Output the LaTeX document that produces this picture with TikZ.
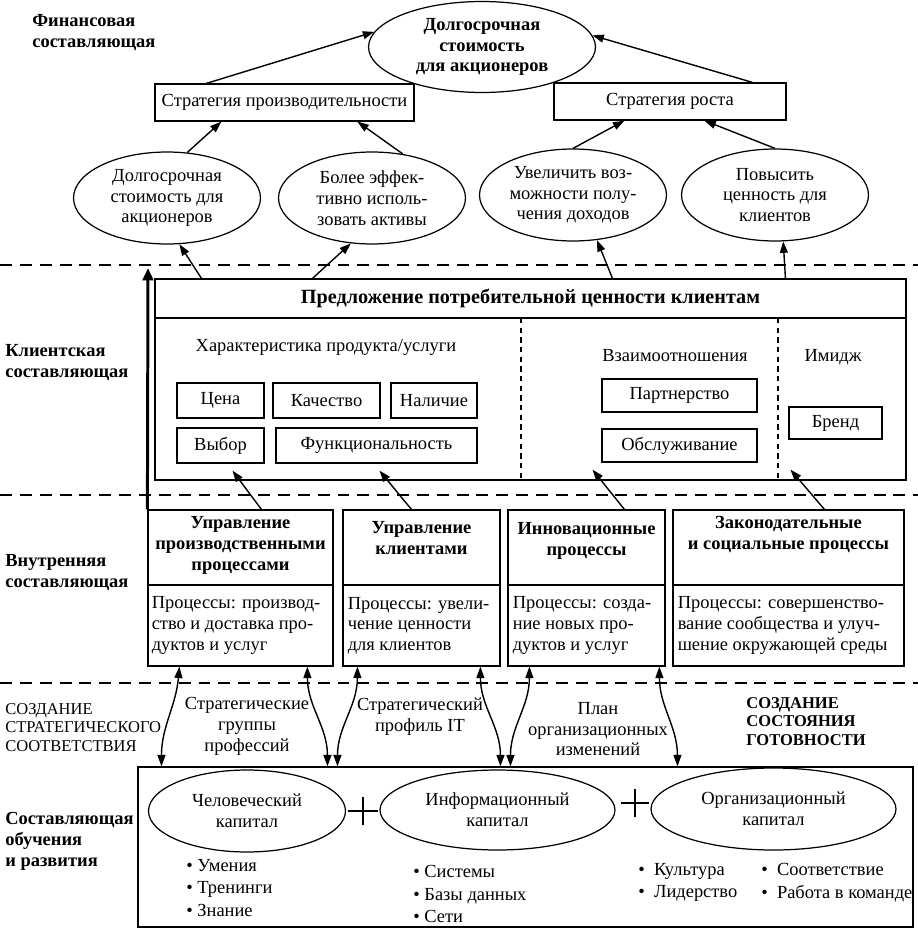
\documentclass[tikz,border=0pt]{standalone}
\usepackage{fontspec}
\setmainfont{Liberation Serif}
\usetikzlibrary{positioning,shapes.geometric,arrows.meta,calc}
\newcommand{\diagsize}{\fontsize{10.5}{11.8}\selectfont}
\newcommand{\capssize}{\fontsize{9.4}{10.5}\selectfont}

\begin{document}
\begin{tikzpicture}[ % one unit = one pixel of the reference
x=0.02cm, y=-0.02cm,
font=\diagsize,
box/.style={rectangle, draw=black, line width=0.7pt, inner sep=0pt},
attr/.style={box, minimum height=0.7cm},
oval/.style={ellipse, draw=black, line width=0.7pt, inner sep=0pt, align=center},
goal/.style={oval, minimum width=3.74cm, minimum height=1.84cm},
proc_head/.style={box, minimum height=1.5cm},
proc_body/.style={box, minimum height=1.62cm},
proc_title/.style={inner sep=0pt, align=center, font=\diagsize\bfseries},
proc_text/.style={inner sep=0pt, align=left},
side_label/.style={anchor=north west, inner sep=0pt, align=left, font=\diagsize\bfseries},
plain_text/.style={anchor=north, inner sep=0pt, align=center},
bullet_list/.style={anchor=north west, inner sep=0pt, align=left, font=\fontsize{10.5}{12.8}\selectfont},
out_arrow/.style={-{Triangle[length=6.5pt,width=4.5pt]}, line width=0.8pt},
both_arrow/.style={{Triangle[length=6.5pt,width=4.5pt]}-{Triangle[length=6.5pt,width=4.5pt]}, line width=0.8pt},
thick_arrow/.style={-{Triangle[length=7pt,width=6pt]}, line width=1.7pt},
level_line/.style={line width=1.5pt, dash pattern=on 6.8pt off 4.5pt},
column_line/.style={line width=0.6pt, dash pattern=on 3pt off 2.5pt}
]
\useasboundingbox (0,0) rectangle (918,929);

% financial
\node[side_label](fin_label) at (32,14) {Финансовая\\составляющая};
\node[oval, font=\diagsize\bfseries, minimum width=4.54cm, minimum height=1.82cm](value_top) at (482,47) {Долгосрочная\\стоимость\\для акционеров};
\node[box, minimum width=5.18cm, minimum height=0.74cm](prod_strategy) at (284.5,102.5) {Стратегия производительности};
\node[box, minimum width=4.64cm, minimum height=0.74cm](growth_strategy) at (670,101.5) {Стратегия роста};

\node[goal](value_long) at (167,198) {Долгосрочная\\стоимость для\\акционеров};
\node[goal](assets) at (372,198) {Более эффек-\\тивно исполь-\\зовать активы};
\node[goal](income) at (573,195) {Увеличить воз-\\можности полу-\\чения доходов};
\node[goal](client_value) at (775,195) {Повысить\\ценность для\\клиентов};

\draw[out_arrow]($(prod_strategy.north west)+(52,0)$) -- (value_top.172);
\draw[out_arrow]($(growth_strategy.north west)+(199,0)$) -- (value_top.6);
\draw[out_arrow](value_long.66) -- ($(prod_strategy.south west)+(67,0)$);
\draw[out_arrow](assets.55) -- ($(prod_strategy.south west)+(203,0)$);
\draw[out_arrow](income.north) -- ($(growth_strategy.south west)+(71,0)$);
\draw[out_arrow](client_value.north) -- ($(growth_strategy.south west)+(151,0)$);

\draw[level_line](0,265) -- (918,265);
\draw[level_line](0,495) -- (918,495);
\draw[level_line](0,683) -- (918,683);

% customer
\node[side_label](client_label) at (5,344) {Клиентская\\составляющая};
\node[box, minimum width=15.02cm, minimum height=0.78cm, font=\fontsize{11.5}{13}\selectfont\bfseries](offer_head) at (530.5,298.5) {Предложение потребительной ценности клиентам};
\node[box, minimum width=15.02cm, minimum height=3.24cm](offer_body) at (530.5,399) {};
\draw[column_line](521,318) -- (521,480);
\draw[column_line](778,318) -- (778,480);

\node[plain_text](product_title) at (326,339) {Характеристика продукта/услуги};
\node[plain_text](relation_title) at (675,349) {Взаимоотношения};
\node[plain_text](image_title) at (833,349) {Имидж};

\node[attr, minimum width=1.74cm](price) at (220.5,400.5) {Цена};
\node[attr, minimum width=2.14cm](quality) at (326.5,400.5) {Качество};
\node[attr, minimum width=1.72cm](availability) at (434,400.5) {Наличие};
\node[attr, minimum width=1.74cm](choice) at (220.5,445.5) {Выбор};
\node[attr, minimum width=4.02cm](function) at (376.5,445.5) {Функциональность};
\node[attr, minimum width=3.1cm, minimum height=0.66cm](partnership) at (679.5,395.5) {Партнерство};
\node[attr, minimum width=3.1cm, minimum height=0.66cm](service) at (679.5,445.5) {Обслуживание};
\node[attr, minimum width=1.86cm, minimum height=0.64cm](brand) at (835.5,423) {Бренд};

\draw[out_arrow]($(offer_head.north west)+(47,0)$) -- (value_long.285);
\draw[out_arrow]($(offer_head.north west)+(158,0)$) -- (assets.245);
\draw[out_arrow]($(offer_head.north west)+(458,0)$) -- (income.298);
\draw[out_arrow]($(offer_head.north west)+(631,0)$) -- (client_value.280);

% internal
\node[side_label](internal_label) at (5,554) {Внутренняя\\составляющая};

\node[proc_head, minimum width=3.7cm](prod_head) at (240.5,547.5) {};
\node[proc_body, minimum width=3.7cm](prod_body) at (240.5,625.5) {};
\node[proc_head, minimum width=3.14cm](client_head) at (421.5,547.5) {};
\node[proc_body, minimum width=3.14cm](client_body) at (421.5,625.5) {};
\node[proc_head, minimum width=3.14cm](innov_head) at (586.5,547.5) {};
\node[proc_body, minimum width=3.14cm](innov_body) at (586.5,625.5) {};
\node[proc_head, minimum width=4.62cm](social_head) at (788.5,547.5) {};
\node[proc_body, minimum width=4.62cm](social_body) at (788.5,625.5) {};

\node[proc_title, below=0.14cm of prod_head.north](prod_title) {Управление\\производственными\\процессами};
\node[proc_title, below=0.24cm of client_head.north](client_title) {Управление\\клиентами};
\node[proc_title, below=0.26cm of innov_head.north](innov_title) {Инновационные\\процессы};
\node[proc_title, below=0.14cm of social_head.north](social_title) {Законодательные\\и социальные процессы};

\node[proc_text, right=0.08cm of prod_body.west](prod_text) {Процессы: производ-\\ство и доставка про-\\дуктов и услуг};
\node[proc_text, right=0.1cm of client_body.west](client_text) {Процессы: увели-\\чение ценности\\для клиентов};
\node[proc_text, right=0.1cm of innov_body.west](innov_text) {Процессы: созда-\\ние новых про-\\дуктов и услуг};
\node[proc_text, right=0.1cm of social_body.west](social_text) {Процессы: совершенство-\\вание сообщества и улуч-\\шение окружающей среды};

\draw[out_arrow]($(prod_head.north west)+(114,0)$) -- ($(offer_body.south west)+(78,-10)$);
\draw[out_arrow]($(client_head.north west)+(69,0)$) -- ($(offer_body.south west)+(225,-10)$);
\draw[out_arrow]($(innov_head.north west)+(117,0)$) -- ($(offer_body.south west)+(438,-11)$);
\draw[out_arrow]($(social_head.north west)+(152,0)$) -- ($(offer_body.south west)+(636,-11)$);

\coordinate (chain_top) at (148,268);
\draw[thick_arrow](prod_head.north west) -- (chain_top);

% readiness
\node[anchor=north west, inner sep=0pt, align=left, font=\capssize](fit_label) at (5,703) {СОЗДАНИЕ\\СТРАТЕГИЧЕСКОГО\\СООТВЕТСТВИЯ};
\node[plain_text](job_families) at (247,697) {Стратегические\\группы\\профессий};
\node[plain_text](it_profile) at (420,698) {Стратегический\\профиль IT};
\node[plain_text](change_plan) at (598,702) {План\\организационных\\изменений};
\node[side_label, font=\capssize\bfseries](ready_label) at (746,697) {СОЗДАНИЕ\\СОСТОЯНИЯ\\ГОТОВНОСТИ};

% learning
\node[side_label](learn_label) at (5,812) {Составляющая\\обучения\\и развития};
\node[box, minimum width=15.5cm, minimum height=3.2cm](capital_box) at (525.5,847) {};
\node[oval, minimum width=3.94cm, minimum height=1.64cm](human) at (247,811) {Человеческий\\капитал};
\node[oval, minimum width=4.7cm, minimum height=1.6cm](information) at (497.5,810) {Информационный\\капитал};
\node[oval, minimum width=4.9cm, minimum height=1.64cm](organization) at (773.5,809) {Организационный\\капитал};

\coordinate (plus_one) at (363,811);
\coordinate (plus_two) at (635,803);
\draw[line width=0.7pt](plus_one) +(-15,0) -- +(15,0) (plus_one) +(0,-14) -- +(0,14);
\draw[line width=0.7pt](plus_two) +(-14,0) -- +(14,0) (plus_two) +(0,-14) -- +(0,14);

\node[bullet_list](human_items) at (186,859) {\textbullet\ Умения\\\textbullet\ Тренинги\\\textbullet\ Знание};
\node[bullet_list](info_items) at (413,865) {\textbullet\ Системы\\\textbullet\ Базы данных\\\textbullet\ Сети};
\node[bullet_list](org_items_a) at (638,863) {\textbullet\enspace Культура\\\textbullet\enspace Лидерство};
\node[bullet_list](org_items_b) at (761,863) {\textbullet\enspace Соответствие\\\textbullet\enspace Работа в команде};

\draw[both_arrow]($(prod_body.south west)+(32,0)$) to[out=-95,in=90] ($(capital_box.north west)+(24,0)$);
\draw[both_arrow]($(prod_body.south west)+(160,0)$) to[out=-90,in=90] ($(capital_box.north west)+(190,0)$);
\draw[both_arrow]($(client_body.south west)+(15,0)$) to[out=-90,in=90] ($(capital_box.north west)+(200,0)$);
\draw[both_arrow]($(client_body.south west)+(138,0)$) to[out=-90,in=90] ($(capital_box.north west)+(363,0)$);
\draw[both_arrow]($(innov_body.south west)+(22,0)$) to[out=-90,in=90] ($(capital_box.north west)+(373,0)$);
\draw[both_arrow]($(innov_body.south west)+(152,0)$) to[out=-90,in=90] ($(capital_box.north west)+(540,0)$);

\end{tikzpicture}
\end{document}
